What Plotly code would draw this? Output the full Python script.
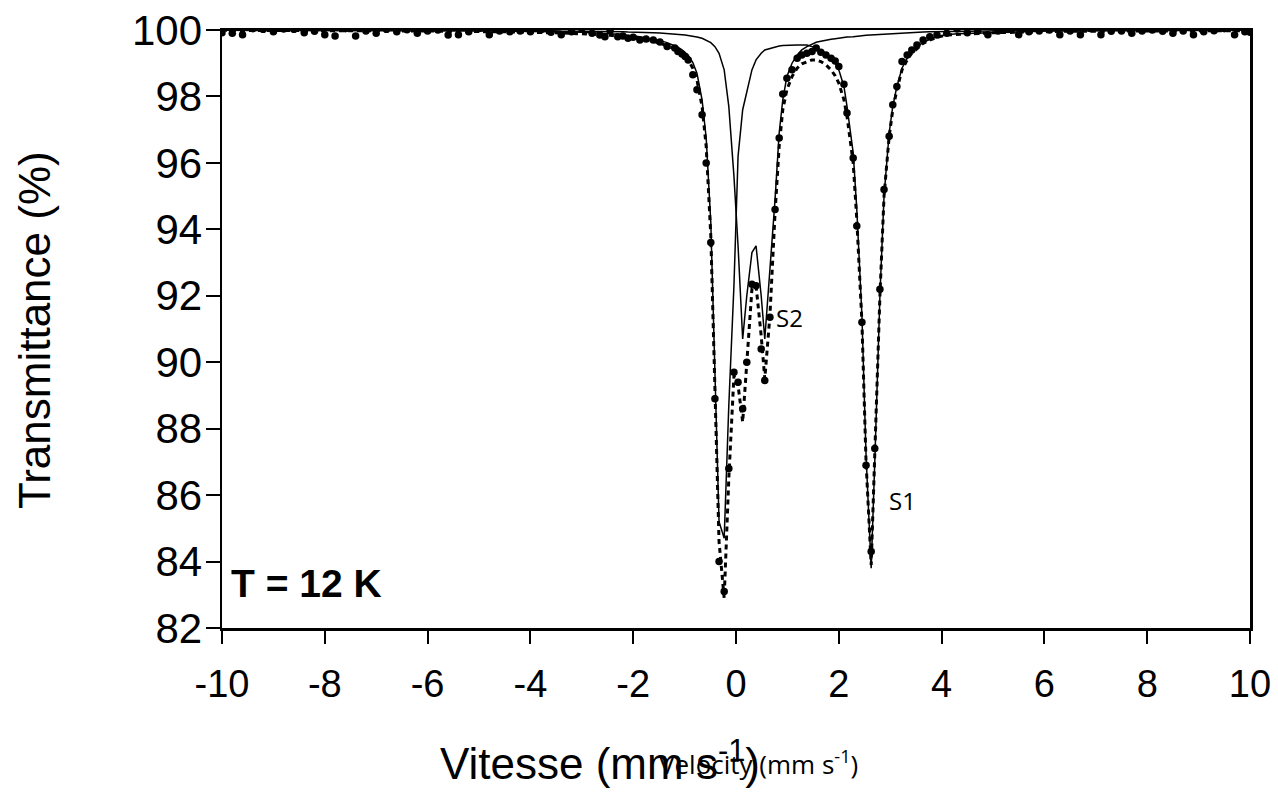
import plotly.graph_objects as go

# ---------------- data ----------------
velocity = [
    -10.0, -9.8, -9.6, -9.4, -9.2, -9.0, -8.8, -8.6, -8.4, -8.2, -8.0, -7.8, -7.6, -7.4, -7.2, -7.0,
    -6.8, -6.6, -6.4, -6.2, -6.0, -5.8, -5.6, -5.4, -5.2, -5.0, -4.8, -4.6, -4.4, -4.2, -4.0, -3.8,
    -3.6, -3.4, -3.2, -3.0, -2.8, -2.65,
    -2.55, -2.45, -2.3, -2.2, -2.1, -2.0, -1.87, -1.75, -1.61, -1.48, -1.34, -1.19, -1.13, -1.05,
    -0.99, -0.93, -0.84, -0.76, -0.66, -0.58, -0.49, -0.41, -0.33, -0.23, -0.14, -0.04, 0.04, 0.13,
    0.21, 0.31, 0.39, 0.49, 0.56, 0.66, 0.76, 0.84, 0.91, 0.99, 1.09, 1.19, 1.28, 1.38, 1.48, 1.56,
    1.65, 1.75, 1.85, 1.93, 2.0, 2.1, 2.16, 2.28, 2.35, 2.45, 2.53, 2.63, 2.7, 2.8, 2.88, 2.98,
    3.05, 3.13, 3.23, 3.33, 3.42, 3.52, 3.64, 3.77, 3.91, 4.1,
    4.3, 4.5, 4.7, 4.9, 5.1, 5.3, 5.5, 5.7, 5.9, 6.1, 6.3, 6.5, 6.7, 6.9, 7.1, 7.3,
    7.5, 7.7, 7.9, 8.1, 8.3, 8.5, 8.7, 8.9, 9.1, 9.3, 9.5, 9.7, 9.9, 10.0,
]

transmission = [
    99.92, 99.90, 99.86, 100.04, 100.02, 99.95, 100.03, 100.02, 99.92, 99.96, 99.86, 99.82, 100.04, 99.82, 99.97, 99.90,
    100.02, 99.95, 100.01, 99.90, 99.97, 100.00, 99.85, 99.86, 99.95, 100.04, 99.86, 99.97, 99.95, 99.97, 99.95, 100.00,
    99.93, 99.86, 99.95, 100.04, 99.90, 99.85,
    99.80, 99.98, 99.80, 99.82, 99.75, 99.78, 99.70, 99.73, 99.70, 99.64, 99.50, 99.46, 99.35, 99.28,
    99.20, 99.10, 98.65, 98.20, 97.45, 96.00, 93.60, 88.90, 84.00, 83.10, 86.80, 89.70, 89.40, 88.60,
    90.00, 92.35, 92.30, 90.40, 89.45, 91.35, 94.60, 96.75, 98.07, 98.55, 98.80, 99.15, 99.25, 99.30, 99.35, 99.46,
    99.33, 99.25, 99.15, 99.07, 98.90, 98.37, 97.50, 96.15, 94.10, 91.20, 86.90, 84.30, 87.40, 92.20, 95.20, 96.80,
    97.75, 98.30, 99.05, 99.25, 99.40, 99.55, 99.70, 99.80, 99.85, 99.90,
    100.03, 99.92, 99.96, 99.86, 99.97, 100.04, 99.86, 99.95, 99.97, 100.00, 99.86, 99.97, 99.86, 100.04, 99.86, 99.96,
    99.97, 99.90, 99.97, 100.00, 99.96, 99.90, 99.97, 99.86, 99.95, 99.98, 100.04, 99.86, 99.95, 99.93,
]

fit_total = [
    99.99, 99.99, 99.99, 99.99, 99.99, 99.99, 99.99, 99.99, 99.98, 99.98, 99.98, 99.98, 99.98, 99.98, 99.98, 99.98,
    99.98, 99.97, 99.97, 99.97, 99.97, 99.97, 99.96, 99.96, 99.96, 99.96, 99.95, 99.95, 99.94, 99.94, 99.93, 99.93,
    99.92, 99.91, 99.90, 99.89, 99.88, 99.86,
    99.85, 99.84, 99.82, 99.80, 99.78, 99.76, 99.73, 99.70, 99.66, 99.60, 99.53, 99.43, 99.37, 99.28,
    99.20, 99.10, 98.85, 98.50, 97.70, 96.50, 93.80, 89.30, 84.60, 82.90, 86.50, 89.60, 89.30, 88.20,
    90.10, 92.20, 92.30, 90.80, 89.50, 91.40, 94.50, 96.50, 97.60, 98.20, 98.60, 98.85, 98.98, 99.05, 99.10, 99.10,
    99.05, 98.95, 98.80, 98.62, 98.40, 97.90, 97.40, 96.00, 94.30, 91.20, 87.00, 83.90, 87.20, 92.00, 95.00, 96.80,
    97.60, 98.20, 98.80, 99.10, 99.30, 99.45, 99.60, 99.70, 99.78, 99.85,
    99.87, 99.88, 99.90, 99.91, 99.92, 99.93, 99.93, 99.94, 99.95, 99.95, 99.96, 99.96, 99.96, 99.97, 99.97, 99.97,
    99.97, 99.98, 99.98, 99.98, 99.98, 99.98, 99.98, 99.98, 99.98, 99.98, 99.98, 99.98, 99.98, 99.98,
]

fit_s1 = [
    99.99, 99.99, 99.99, 99.99, 99.99, 99.99, 99.99, 99.99, 99.99, 99.99, 99.99, 99.99, 99.99, 99.99, 99.99, 99.99,
    99.99, 99.98, 99.98, 99.98, 99.98, 99.98, 99.98, 99.98, 99.97, 99.97, 99.97, 99.97, 99.96, 99.96, 99.96, 99.95,
    99.95, 99.94, 99.94, 99.93, 99.92, 99.91,
    99.90, 99.89, 99.87, 99.86, 99.84, 99.82, 99.80, 99.77, 99.73, 99.68, 99.62, 99.53, 99.48, 99.40,
    99.33, 99.24, 99.02, 98.70, 97.90, 96.75, 94.20, 89.80, 85.20, 84.70, 88.70, 92.30, 96.20, 97.60,
    98.10, 98.80, 99.10, 99.30, 99.40, 99.45, 99.50, 99.52, 99.53, 99.54, 99.55, 99.55, 99.55, 99.55, 99.50, 99.46,
    99.40, 99.30, 99.15, 99.00, 98.80, 98.30, 97.70, 96.30, 94.60, 91.40, 87.20, 83.80, 87.00, 92.00, 95.00, 96.90,
    97.70, 98.30, 98.85, 99.15, 99.35, 99.50, 99.62, 99.72, 99.80, 99.86,
    99.89, 99.90, 99.92, 99.93, 99.94, 99.95, 99.95, 99.96, 99.96, 99.97, 99.97, 99.97, 99.98, 99.98, 99.98, 99.98,
    99.98, 99.99, 99.99, 99.99, 99.99, 99.99, 99.99, 99.99, 99.99, 99.99, 99.99, 99.99, 99.99, 99.99,
]

fit_s2 = [
    100.0, 100.0, 100.0, 100.0, 100.0, 100.0, 100.0, 100.0, 100.0, 100.0, 100.0, 100.0, 100.0, 100.0, 100.0, 100.0,
    99.99, 99.99, 99.99, 99.99, 99.99, 99.99, 99.99, 99.99, 99.99, 99.99, 99.99, 99.99, 99.98, 99.98, 99.98, 99.98,
    99.98, 99.97, 99.97, 99.97, 99.96, 99.96,
    99.96, 99.96, 99.95, 99.95, 99.94, 99.94, 99.93, 99.92, 99.92, 99.91, 99.90, 99.88, 99.87, 99.86,
    99.85, 99.84, 99.82, 99.79, 99.75, 99.70, 99.62, 99.50, 99.30, 98.80, 97.70, 95.60, 93.50, 90.70,
    92.00, 93.30, 93.50, 92.00, 90.70, 92.80, 94.90, 96.90, 97.90, 98.60, 99.00, 99.25, 99.40, 99.50, 99.58, 99.63,
    99.66, 99.70, 99.72, 99.74, 99.76, 99.78, 99.79, 99.80, 99.82, 99.83, 99.84, 99.85, 99.86, 99.87, 99.88, 99.89,
    99.90, 99.90, 99.91, 99.92, 99.93, 99.93, 99.94, 99.95, 99.95, 99.96,
    99.96, 99.97, 99.97, 99.97, 99.98, 99.98, 99.98, 99.98, 99.98, 99.99, 99.99, 99.99, 99.99, 99.99, 99.99, 99.99,
    99.99, 100.0, 100.0, 100.0, 100.0, 100.0, 100.0, 100.0, 100.0, 100.0, 100.0, 100.0, 100.0, 100.0,
]

x_ticks = [-10, -8, -6, -4, -2, 0, 2, 4, 6, 8, 10]
y_ticks = [82, 84, 86, 88, 90, 92, 94, 96, 98, 100]

# ---------------- figure ----------------
ARIAL = "Liberation Sans, Arial, sans-serif"
SMALL = "Open Sans, Noto Sans, sans-serif"

fig = go.Figure()

fig.add_trace(go.Scatter(
    x=velocity, y=transmission, mode="markers",
    marker=dict(color="black", size=7.5), showlegend=False, cliponaxis=True,
))
fig.add_trace(go.Scatter(
    x=velocity, y=fit_total, mode="lines",
    line=dict(color="black", width=3, dash="5px,4px"), showlegend=False,
))
fig.add_trace(go.Scatter(
    x=velocity, y=fit_s1, mode="lines",
    line=dict(color="black", width=1.5), showlegend=False,
))
fig.add_trace(go.Scatter(
    x=velocity, y=fit_s2, mode="lines",
    line=dict(color="black", width=1.5), showlegend=False,
))

fig.update_layout(
    width=1278, height=792,
    margin=dict(l=222, r=28, t=30, b=164, autoexpand=False),
    paper_bgcolor="white", plot_bgcolor="white",
    font=dict(family=ARIAL, color="black"),
    hovermode=False,
    xaxis=dict(
        range=[-10, 10], tickvals=x_ticks, ticktext=[str(v) for v in x_ticks],
        ticks="outside", ticklen=13, tickwidth=2, tickcolor="black",
        showline=True, linecolor="black", linewidth=2.5, mirror=True,
        showgrid=False, zeroline=False, automargin=False,
        tickfont=dict(family=ARIAL, size=38, color="black"),
        ticklabelstandoff=8, ticklabeloverflow="allow",
    ),
    yaxis=dict(
        range=[82, 100], tickvals=y_ticks, ticktext=[str(v) for v in y_ticks],
        ticks="outside", ticklen=14, tickwidth=2, tickcolor="black",
        showline=True, linecolor="black", linewidth=2.5, mirror=True,
        showgrid=False, zeroline=False, automargin=False,
        tickfont=dict(family=ARIAL, size=42, color="black"),
        ticklabelstandoff=-5, ticklabeloverflow="allow",
    ),
    annotations=[
        dict(text="<b>T = 12 K</b>", x=0.0068, y=0.0736, xref="paper", yref="paper",
             xanchor="left", yanchor="middle", showarrow=False,
             font=dict(family=ARIAL, size=39, color="black")),
        dict(text="S2", x=0.5516, y=0.5184, xref="paper", yref="paper",
             xanchor="center", yanchor="middle", showarrow=False,
             font=dict(family=SMALL, size=24, color="black")),
        dict(text="S1", x=0.6615, y=0.2124, xref="paper", yref="paper",
             xanchor="center", yanchor="middle", showarrow=False,
             font=dict(family=SMALL, size=24, color="black")),
        dict(text="Vitesse (mm s<sup>-1</sup>)", x=0.3677, y=-0.222, xref="paper", yref="paper",
             xanchor="center", yanchor="middle", showarrow=False,
             font=dict(family=ARIAL, size=44, color="black")),
        dict(text="Velocity (mm s<sup>-1</sup>)", x=0.5215, y=-0.225, xref="paper", yref="paper",
             xanchor="center", yanchor="middle", showarrow=False,
             font=dict(family=SMALL, size=26, color="black")),
        dict(text="Transmittance (%)", x=-0.183, y=0.498, xref="paper", yref="paper",
             xanchor="center", yanchor="middle", showarrow=False, textangle=-90,
             font=dict(family=ARIAL, size=44, color="black")),
    ],
)

# remove the default 8 px page margin so the figure fills the 1278x792 window exactly
fig.write_html(
    "out.html",
    config={"displayModeBar": False, "staticPlot": True},
    post_script="document.body.style.margin='0px';",
)
